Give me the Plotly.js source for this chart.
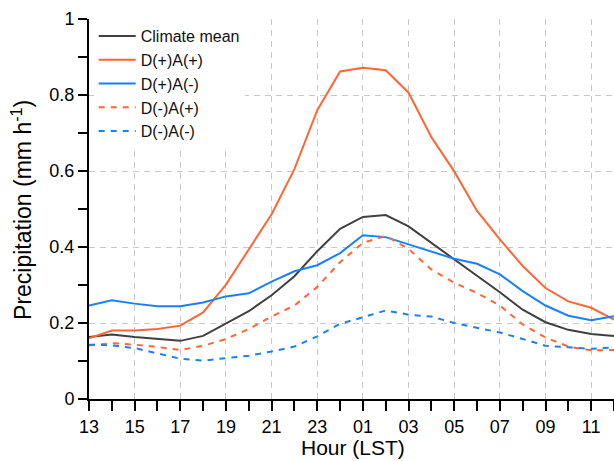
<!DOCTYPE html>
<html><head><meta charset="utf-8">
<script src="https://cdn.plot.ly/plotly-3.0.1.min.js"></script>
<style>html,body{margin:0;padding:0;background:#fff}#chart{width:614px;height:461px}</style>
</head><body><div id="chart"></div>
<script>
const hours = ['13','14','15','16','17','18','19','20','21','22','23','00','01','02','03','04','05','06','07','08','09','10','11','12'];
const climateMean = [0.163,0.170,0.163,0.158,0.153,0.166,0.198,0.231,0.273,0.323,0.389,0.448,0.479,0.484,0.454,0.411,0.367,0.323,0.281,0.235,0.202,0.182,0.171,0.166];
const dPlusAPlus  = [0.160,0.180,0.180,0.184,0.193,0.228,0.301,0.394,0.486,0.605,0.760,0.862,0.872,0.865,0.806,0.689,0.599,0.495,0.420,0.350,0.292,0.257,0.240,0.209];
const dPlusAMinus = [0.246,0.260,0.251,0.244,0.244,0.254,0.270,0.278,0.309,0.336,0.352,0.384,0.431,0.426,0.407,0.389,0.369,0.356,0.328,0.284,0.246,0.219,0.207,0.218];
const dMinusAPlus = [0.141,0.147,0.143,0.137,0.129,0.140,0.158,0.184,0.217,0.246,0.295,0.360,0.411,0.429,0.395,0.341,0.306,0.279,0.246,0.196,0.162,0.138,0.128,0.129];
const dMinusAMinus= [0.143,0.141,0.134,0.121,0.106,0.101,0.107,0.114,0.125,0.138,0.165,0.198,0.215,0.233,0.222,0.217,0.200,0.188,0.175,0.158,0.140,0.136,0.132,0.136];
const seriesNames = ['Climate mean','D(+)A(+)','D(+)A(-)','D(-)A(+)','D(-)A(-)'];
const xTitle = 'Hour (LST)';
const yTitle = 'Precipitation (mm h<sup>-1</sup>)';

const idx = hours.map((h,i)=>i);
const majorIdx = idx.filter(i=>i%2===0);
const majorText = majorIdx.map(i=>hours[i]);

const ORANGE = '#ff6633', BLUE = '#1a80f5', GRAY = '#404040';
const DASH = '6px,6px';
const series = [
  {y: climateMean, color: GRAY, dash: 'solid'},
  {y: dPlusAPlus, color: ORANGE, dash: 'solid'},
  {y: dPlusAMinus, color: BLUE, dash: 'solid'},
  {y: dMinusAPlus, color: ORANGE, dash: DASH},
  {y: dMinusAMinus, color: BLUE, dash: DASH}
];
const traces = series.map((s,k)=>({
  x: idx, y: s.y, name: seriesNames[k], type: 'scatter', mode: 'lines',
  line: {color: s.color, width: 2, dash: s.dash}
}));

const FONT = 'Liberation Sans, Arial, Helvetica, sans-serif';
const layout = {
  width: 614, height: 461,
  margin: {l: 89, r: 0, t: 19, b: 62},
  paper_bgcolor: '#fff', plot_bgcolor: '#fff',
  font: {family: FONT, color: '#000'},
  showlegend: true,
  legend: {x: 0.009, y: 1, xanchor: 'left', yanchor: 'top', bgcolor: '#fff',
           font: {family: FONT, size: 16, color: '#111'}, itemwidth: 37, tracegroupgap: 0},
  xaxis: {
    range: [0, 23], tickmode: 'array', tickvals: majorIdx, ticktext: majorText,
    ticks: 'outside', ticklen: 10, tickwidth: 2, tickcolor: '#000', ticklabelstandoff: 0,
    showline: true, linewidth: 2, linecolor: '#000', mirror: false,
    showgrid: true, gridcolor: '#c8c8c8', gridwidth: 1, griddash: '6px,5px',
    minor: {dtick: 1, tick0: 0, ticks: 'outside', ticklen: 10, tickwidth: 2, tickcolor: '#000', showgrid: false},
    tickfont: {size: 18, family: FONT, color: '#000'},
    zeroline: false
  },
  xaxis2: {
    overlaying: 'x', side: 'top', range: [0, 23], tickmode: 'linear', tick0: 0, dtick: 1,
    ticks: 'outside', ticklen: 7, tickwidth: 2, tickcolor: '#000',
    showline: true, linewidth: 2, linecolor: '#000', showticklabels: false, showgrid: false, zeroline: false
  },
  yaxis: {
    range: [0, 1], tickmode: 'linear', tick0: 0, dtick: 0.2,
    ticks: 'outside', ticklen: 9, tickwidth: 2, tickcolor: '#000',
    showline: true, linewidth: 2, linecolor: '#000',
    showgrid: true, gridcolor: '#c8c8c8', gridwidth: 1, griddash: '6px,5px',
    minor: {dtick: 0.1, ticks: 'outside', ticklen: 9, tickwidth: 2, tickcolor: '#000', showgrid: false},
    tickfont: {size: 18, family: FONT, color: '#000'},
    zeroline: false
  },
  annotations: [
    {text: xTitle, xref: 'paper', yref: 'paper', x: 0.502, y: -0.1276, xanchor: 'center', yanchor: 'middle',
     showarrow: false, borderpad: 0, font: {size: 21, family: FONT, color: '#000'}},
    {text: yTitle, xref: 'paper', yref: 'paper', x: -0.128, y: 0.497, xanchor: 'center', yanchor: 'middle',
     textangle: -90, showarrow: false, font: {size: 23, family: FONT, color: '#000'}}
  ]
};
Plotly.newPlot('chart', traces, layout, {displayModeBar: false, staticPlot: true});
</script></body></html>
